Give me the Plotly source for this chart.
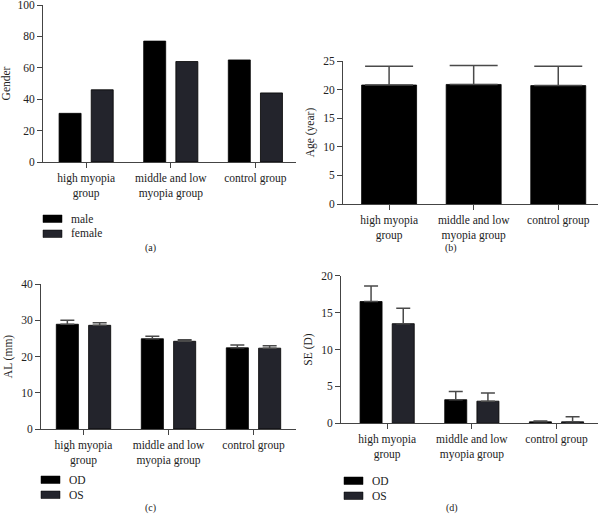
import plotly.graph_objects as go

# ---------------- data ----------------
categories = ["high myopia<br>group", "middle and low<br>myopia group", "control group"]

gender_male = [31, 77, 65]
gender_female = [46, 64, 44]

age_mean = [20.8, 20.9, 20.7]
age_err = [3.3, 3.3, 3.4]

al_od = [28.9, 24.9, 22.4]
al_od_err = [1.1, 0.7, 0.8]
al_os = [28.6, 24.2, 22.3]
al_os_err = [0.7, 0.4, 0.7]

se_od = [16.5, 3.2, 0.2]
se_od_err = [2.1, 1.1, 0.1]
se_os = [13.5, 3.0, 0.2]
se_os_err = [2.1, 1.1, 0.7]

# ---------------- style ----------------
C1 = "#000000"
C2 = "#23242c"
AX = "#444444"
ERR = "#4a4a4a"
FONT = "Liberation Serif"
W = 601
H = 520

fig = go.Figure()

def px_x(v):
    return v / W

def px_y(v):
    return 1 - v / H

# domains (paper)
dom = {
    "a": dict(x=[px_x(43), px_x(296)], y=[px_y(162), px_y(5)]),
    "b": dict(x=[px_x(343), px_x(598)], y=[px_y(204), px_y(61)]),
    "c": dict(x=[px_x(41), px_x(296)], y=[px_y(429), px_y(284)]),
    "d": dict(x=[px_x(341), px_x(598)], y=[px_y(423.3), px_y(275.7)]),
}

xs = [0, 1, 2]

def bar(y, color, xa, ya, offset, width, err=None, capw=7):
    kw = {}
    if err is not None:
        kw["error_y"] = dict(type="data", symmetric=False, array=err,
                             arrayminus=[0] * len(err), color=ERR,
                             thickness=1.5, width=capw)
    return go.Bar(x=xs, y=y, marker=dict(color=color, line=dict(color="#000000", width=0.8)),
                  xaxis=xa, yaxis=ya, offset=offset, width=width,
                  showlegend=False, hoverinfo="skip", **kw)

# (a)
fig.add_trace(bar(gender_male, C1, "x", "y", -0.32, 0.26))
fig.add_trace(bar(gender_female, C2, "x", "y", 0.06, 0.26))
# (b)
fig.add_trace(bar(age_mean, C1, "x2", "y2", -0.325, 0.65, age_err, capw=24))
# (c)
fig.add_trace(bar(al_od, C1, "x3", "y3", -0.32, 0.26, al_od_err))
fig.add_trace(bar(al_os, C2, "x3", "y3", 0.06, 0.26, al_os_err))
# (d)
fig.add_trace(bar(se_od, C1, "x4", "y4", -0.32, 0.26, se_od_err))
fig.add_trace(bar(se_os, C2, "x4", "y4", 0.06, 0.26, se_os_err))

tickfont = dict(family=FONT, size=11.5, color="#222222")

def xaxis(d, rng, anchor):
    return dict(domain=d["x"], range=rng, tickmode="array", tickvals=xs,
                ticktext=categories, showline=True, linecolor=AX, linewidth=1,
                ticks="outside", ticklen=5, tickcolor=AX, tickfont=tickfont,
                showgrid=False, zeroline=False, fixedrange=True,
                automargin=False, anchor=anchor, ticklabeloverflow="allow")

def yaxis(d, rng, dtick, title, anchor):
    return dict(domain=d["y"], range=rng, dtick=dtick, showline=True,
                linecolor=AX, linewidth=1, ticks="outside", ticklen=5,
                tickcolor=AX, tickfont=tickfont, showgrid=False, zeroline=False,
                title=dict(text=title, font=dict(family=FONT, size=11.5, color="#222222"),
                           standoff=6),
                anchor=anchor, fixedrange=True, automargin=False,
                ticklabeloverflow="allow")

fig.update_layout(
    template="none",
    width=W, height=H,
    margin=dict(l=0, r=0, t=0, b=0, autoexpand=False),
    paper_bgcolor="white", plot_bgcolor="white",
    barmode="overlay",
    showlegend=False,
    xaxis=xaxis(dom["a"], [-0.51, 2.48], "y"),
    yaxis=yaxis(dom["a"], [0, 100], 20, "Gender", "x"),
    xaxis2=xaxis(dom["b"], [-0.545, 2.47], "y2"),
    yaxis2=yaxis(dom["b"], [0, 25], 5, "Age (year)", "x2"),
    xaxis3=xaxis(dom["c"], [-0.5, 2.5], "y3"),
    yaxis3=yaxis(dom["c"], [0, 40], 10, "AL (mm)", "x3"),
    xaxis4=xaxis(dom["d"], [-0.545, 2.49], "y4"),
    yaxis4=yaxis(dom["d"], [0, 20], 5, "SE (D)", "x4"),
)

# legends drawn as swatches + text
legends = [
    (43, 215, ["male", "female"]),
    (41, 476, ["OD", "OS"]),
    (344, 477, ["OD", "OS"]),
]
shapes = []
annotations = []
for lx, ly, names in legends:
    for i, (name, col) in enumerate(zip(names, [C1, C2])):
        top = ly + i * 15
        shapes.append(dict(type="rect", xref="paper", yref="paper",
                           x0=px_x(lx), x1=px_x(lx + 19), y0=px_y(top + 7.5), y1=px_y(top),
                           fillcolor=col, line=dict(color="#000000", width=0.5)))
        annotations.append(dict(xref="paper", yref="paper", x=px_x(lx + 26), y=px_y(top + 3.5),
                                text=name, showarrow=False, xanchor="left", yanchor="middle",
                                font=dict(family=FONT, size=11.5, color="#222222")))

captions = [("(a)", 150, 248), ("(b)", 451, 248), ("(c)", 150, 508), ("(d)", 452, 508)]
for t, cx, cy in captions:
    annotations.append(dict(xref="paper", yref="paper", x=px_x(cx), y=px_y(cy), text=t,
                            showarrow=False, xanchor="center", yanchor="middle",
                            font=dict(family=FONT, size=10, color="#222222")))

fig.update_layout(shapes=shapes, annotations=annotations)
fig.write_html("out.html",
               config={"displayModeBar": False, "staticPlot": True},
               post_script="document.body.style.margin='0';document.body.style.overflow='hidden';")
